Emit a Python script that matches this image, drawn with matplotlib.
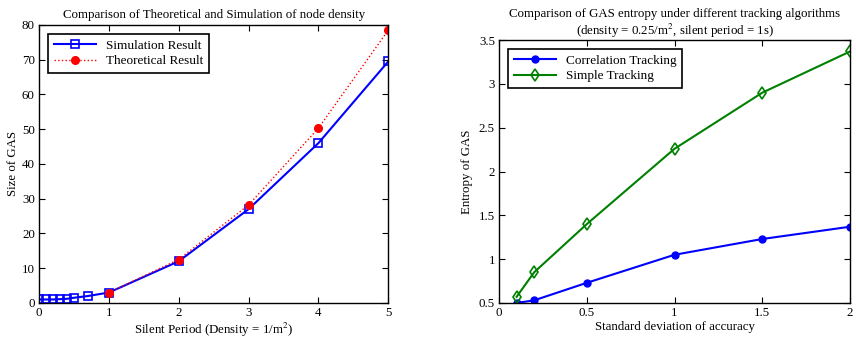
import numpy as np
import matplotlib.pyplot as plt

plt.rcParams['font.family'] = ['Liberation Serif', 'DejaVu Serif']
plt.rcParams['font.size'] = 9.3
plt.rcParams['mathtext.fontset'] = 'stix'

# left panel data
sim_x = [0, 0.1, 0.2, 0.3, 0.4, 0.5, 0.7, 1, 2, 3, 4, 5]
sim_y = [1.0, 1.0, 1.0, 1.1, 1.2, 1.5, 2.0, 3.0, 12.0, 27.0, 46.0, 69.5]
theo_x = [1, 2, 3, 4, 5]
theo_y = [3.0, 12.5, 28.2, 50.3, 78.5]

# right panel data
acc_x = [0.1, 0.2, 0.5, 1.0, 1.5, 2.0]
corr_y = [0.50, 0.53, 0.73, 1.05, 1.23, 1.37]
simple_y = [0.57, 0.85, 1.40, 2.26, 2.90, 3.37]

fig = plt.figure(figsize=(8.56, 3.37), dpi=100)
ax1 = fig.add_axes([0.0456, 0.101, 0.408, 0.825])
ax2 = fig.add_axes([0.583, 0.101, 0.410, 0.780])

ax1.plot(sim_x, sim_y, '-s', color='blue', lw=1.5, ms=5.5, mfc='none', mew=1.2,
         label='Simulation Result')
ax1.plot(theo_x, theo_y, ':o', color='red', lw=1.0, ms=5.5, label='Theoretical Result')
ax1.set_xlim(0, 5)
ax1.set_ylim(0, 80)
ax1.set_xticks(range(6))
ax1.set_yticks(range(0, 81, 10))
ax1.set_xlabel('Silent Period (Density = 1/m$^2$)', labelpad=1)
ax1.set_ylabel('Size of GAS', labelpad=2)
ax1.set_title('Comparison of Theoretical and Simulation of node density', fontsize=9.3, pad=5)

ax2.plot(acc_x, corr_y, '-o', color='blue', lw=1.5, ms=5, label='Correlation Tracking')
ax2.plot(acc_x, simple_y, '-d', color=(0, 0.5, 0), lw=1.5, ms=6, mfc='none', mew=1.2,
         label='Simple Tracking')
ax2.set_xlim(0, 2)
ax2.set_ylim(0.5, 3.5)
ax2.set_xticks([0, 0.5, 1, 1.5, 2])
ax2.set_xticklabels(['0', '0.5', '1', '1.5', '2'])
ax2.set_yticks([0.5, 1, 1.5, 2, 2.5, 3, 3.5])
ax2.set_yticklabels(['0.5', '1', '1.5', '2', '2.5', '3', '3.5'])
ax2.set_xlabel('Standard deviation of accuracy', labelpad=1)
ax2.set_ylabel('Entropy of GAS', labelpad=4)
ax2.set_title('Comparison of GAS entropy under different tracking algorithms\n'
              '(density = 0.25/m$^2$, silent period = 1s)', fontsize=9.3, pad=4,
              linespacing=1.1)

for ax in (ax1, ax2):
    ax.tick_params(direction='in', top=True, right=True, length=4, width=0.8,
                   labelsize=9.3, pad=3)
    for s in ax.spines.values():
        s.set_linewidth(1.0)
    leg = ax.legend(loc='upper left', fancybox=False, edgecolor='black',
                    framealpha=1, fontsize=9.5, borderaxespad=0.7,
                    handlelength=3.2, labelspacing=0.25, borderpad=0.4)
    leg.get_frame().set_linewidth(1.2)

fig.savefig('out.png', dpi=100)
